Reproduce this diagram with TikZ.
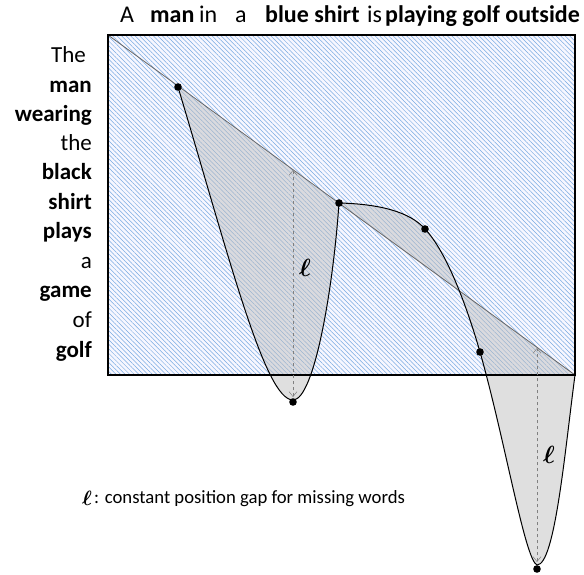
\documentclass[tikz,border=0pt]{standalone}
\usepackage{amsmath}
\usepackage{fontspec}
\setmainfont{Carlito}
\usetikzlibrary{arrows.meta,patterns.meta}
\definecolor{hatchblue}{RGB}{120,170,225}
\begin{document}
\begin{tikzpicture}[x=1pt,y=-1pt,
    word/.style={inner sep=0pt, font=\fontsize{24}{28}\selectfont},
    bword/.style={word, font=\fontsize{24}{28}\selectfont\bfseries},
    vword/.style={inner sep=0pt, font=\fontsize{23}{27}\selectfont},
    bvword/.style={vword, font=\fontsize{23}{27}\selectfont\bfseries},
    gap/.style={draw=gray, dashed, line width=0.5pt, {Straight Barb[length=5pt,width=8pt]}-{Straight Barb[length=5pt,width=8pt]}},
    dot/.style={fill=black}]
    \useasboundingbox (0,0) rectangle (584,575);

    % Hatched box and diagonal
    \fill[blue!3] (108,35) rectangle (575,375);
    \fill[pattern={Lines[angle=-45,distance=3.2pt,line width=0.5pt]}, pattern color=hatchblue] (108,35) rectangle (575,375);
    \coordinate (tl) at (108,35);
    \coordinate (br) at (575,375);

    % Points on the path
    \coordinate (p1) at (178,87);
    \coordinate (b1) at (293,400);
    \coordinate (p2) at (339,203);
    \coordinate (p3) at (425,229);
    \coordinate (p4) at (480,352);
    \coordinate (b2) at (537,565);

    % Shaded gap between path and diagonal
    \fill[gray!50, fill opacity=0.5]
        (p1) .. controls (230,260) and (265,400) .. (b1)
        .. controls (314,400) and (333,290) .. (p2)
        .. controls (380,204) and (410,212) .. (p3)
        .. controls (445,250) and (465,300) .. (p4)
        .. controls (505,440) and (525,560) .. (b2)
        .. controls (555,565) and (565,450) .. (br) -- cycle;

    \draw[gray!80!black, line width=0.8pt] (tl) -- (br);
    \draw[line width=1.3pt] (tl) rectangle (br);

    % Path
    \draw[line width=1pt]
        (p1) .. controls (230,260) and (265,400) .. (b1)
        .. controls (314,400) and (333,290) .. (p2)
        .. controls (380,204) and (410,212) .. (p3)
        .. controls (445,250) and (465,300) .. (p4)
        .. controls (505,440) and (525,560) .. (b2)
        .. controls (555,565) and (565,450) .. (br);

    % Gaps
    \coordinate (g1a) at (293,397);
    \coordinate (g1) at (293,170);
    \coordinate (g2a) at (537,562);
    \coordinate (g2) at (537,348);
    \draw[gap] (g1a) -- (g1);
    \draw[gap] (g2a) -- (g2);
    \node[font=\fontsize{25}{30}\selectfont] (l1) at (305,268) {$\boldsymbol{\ell}$};
    \node[font=\fontsize{25}{30}\selectfont] (l2) at (549,455) {$\boldsymbol{\ell}$};

    % Dots
    \foreach \p in {p1,p2,p3,p4} \fill[dot] (\p) circle[radius=3.8pt];
    \fill[dot] (293,402) circle[radius=3.8pt];
    \fill[dot] (537,569) circle[radius=3.8pt];

    % Top sentence
    \node[word, anchor=base west] (wA) at (120,23) {A};
    \node[bword, anchor=base west] (wman) at (150,23) {man};
    \node[word, anchor=base west] (win) at (199,23) {in};
    \node[word, anchor=base west] (wa) at (235,23) {a};
    \node[bword, anchor=base west] (wblue) at (265,23) {blue shirt};
    \node[word, anchor=base west] (wis) at (367,23) {is};
    \node[bword, anchor=base west] (wplay) at (385,23) {playing golf outside};

    % Left sentence
    \node[vword, anchor=base east] (vThe) at (86,63) {The};
    \node[bvword, anchor=base east] (vman) at (92,93) {man};
    \node[bvword, anchor=base east] (vwear) at (92,122) {wearing};
    \node[vword, anchor=base east] (vthe) at (92,151) {the};
    \node[bvword, anchor=base east] (vblack) at (92,180) {black};
    \node[bvword, anchor=base east] (vshirt) at (92,209) {shirt};
    \node[bvword, anchor=base east] (vplays) at (92,238) {plays};
    \node[vword, anchor=base east] (va) at (92,268) {a};
    \node[bvword, anchor=base east] (vgame) at (92,297) {game};
    \node[vword, anchor=base east] (vof) at (92,327) {of};
    \node[bvword, anchor=base east] (vgolf) at (92,357) {golf};

    % Legend
    \node[inner sep=0pt, anchor=base west, font=\fontsize{22}{26}\selectfont] (key) at (82,505) {$\boldsymbol{\ell}$};
    \node[inner sep=0pt, anchor=base west, font=\fontsize{18.7}{22}\selectfont] (keytext) at (94,503) {: constant position gap for missing words};
\end{tikzpicture}
\end{document}
